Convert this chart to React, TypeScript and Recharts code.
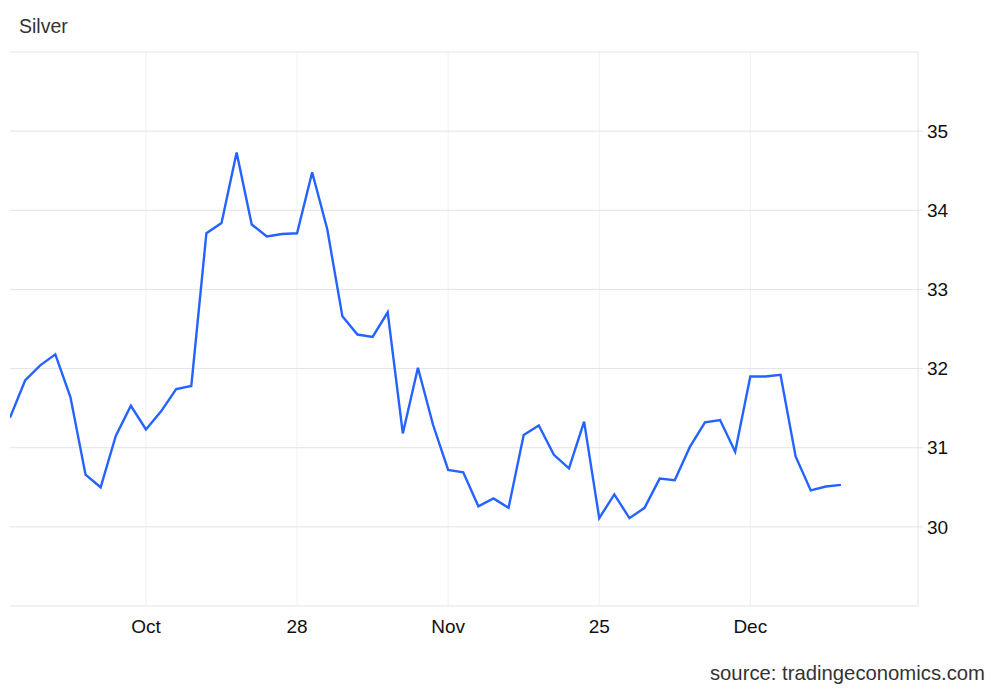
import React from "react";
import { LineChart, Line, XAxis, YAxis, ReferenceLine } from "recharts";

const silverValues: number[] = [
  31.38, 31.85, 32.04, 32.18, 31.64, 30.66, 30.5, 31.15, 31.53, 31.23,
  31.46, 31.74, 31.78, 33.71, 33.84, 34.73, 33.82, 33.67, 33.7, 33.71,
  34.48, 33.76, 32.66, 32.43, 32.4, 32.71, 31.18, 32.01, 31.29, 30.72,
  30.69, 30.26, 30.36, 30.24, 31.16, 31.28, 30.91, 30.74, 31.33, 30.11,
  30.41, 30.11, 30.24, 30.61, 30.59, 31.01, 31.32, 31.35, 30.95, 31.9,
  31.9, 31.92, 30.89, 30.46, 30.51, 30.53,
];

const xTickPositions: number[] = [9, 19, 29, 39, 49];
const xTickLabels: string[] = ["Oct", "28", "Nov", "25", "Dec"];
const yTicks: number[] = [30, 31, 32, 33, 34, 35];
const yGridLines: number[] = [30, 31, 32, 33, 34, 35, 36];

const data = silverValues.map((v, i) => ({ i, value: v }));

const FONT = "'Liberation Sans', Arial, Helvetica, sans-serif";

export default function App() {
  return (
    <div
      style={{
        position: "absolute",
        left: 0,
        top: 0,
        width: 1000,
        height: 693,
        background: "#fff",
        fontFamily: FONT,
      }}
    >
      <div
        style={{
          position: "absolute",
          left: 19,
          top: 16,
          fontSize: 19.5,
          lineHeight: "20px",
          color: "#333",
        }}
      >
        Silver
      </div>
      <LineChart
        width={1000}
        height={693}
        data={data}
        margin={{ top: 52, right: 0, left: 10, bottom: 0 }}
      >
        {xTickPositions.map((x) => (
          <ReferenceLine key={"vx" + x} x={x} stroke="#edf1f6" strokeWidth={1} />
        ))}
        {yGridLines.map((y) => (
          <ReferenceLine key={"hy" + y} y={y} stroke="#e4e4e4" strokeWidth={1} />
        ))}
        <XAxis
          dataKey="i"
          type="number"
          domain={[0, 60.1]}
          ticks={xTickPositions}
          tickFormatter={(v: number) => xTickLabels[xTickPositions.indexOf(v)] ?? ""}
          height={87}
          axisLine={{ stroke: "#e4e4e4" }}
          tickLine={false}
          tickSize={6}
          tickMargin={8}
          tick={{ fontSize: 19, fill: "#111", fontFamily: FONT }}
          allowDataOverflow
        />
        <YAxis
          orientation="right"
          width={82}
          domain={[29, 36]}
          ticks={yTicks}
          axisLine={{ stroke: "#e4e4e4" }}
          tickLine={{ stroke: "#e4e4e4" }}
          tickSize={5}
          tickMargin={4}
          tick={{ fontSize: 19, fill: "#111", fontFamily: FONT }}
          allowDataOverflow
        />
        <Line
          type="linear"
          dataKey="value"
          stroke="#2563ff"
          strokeWidth={2.4}
          dot={false}
          isAnimationActive={false}
        />
      </LineChart>
      <div
        style={{
          position: "absolute",
          right: 15,
          top: 663,
          fontSize: 20.3,
          lineHeight: "20px",
          color: "#333",
          whiteSpace: "nowrap",
        }}
      >
        source: tradingeconomics.com
      </div>
    </div>
  );
}
